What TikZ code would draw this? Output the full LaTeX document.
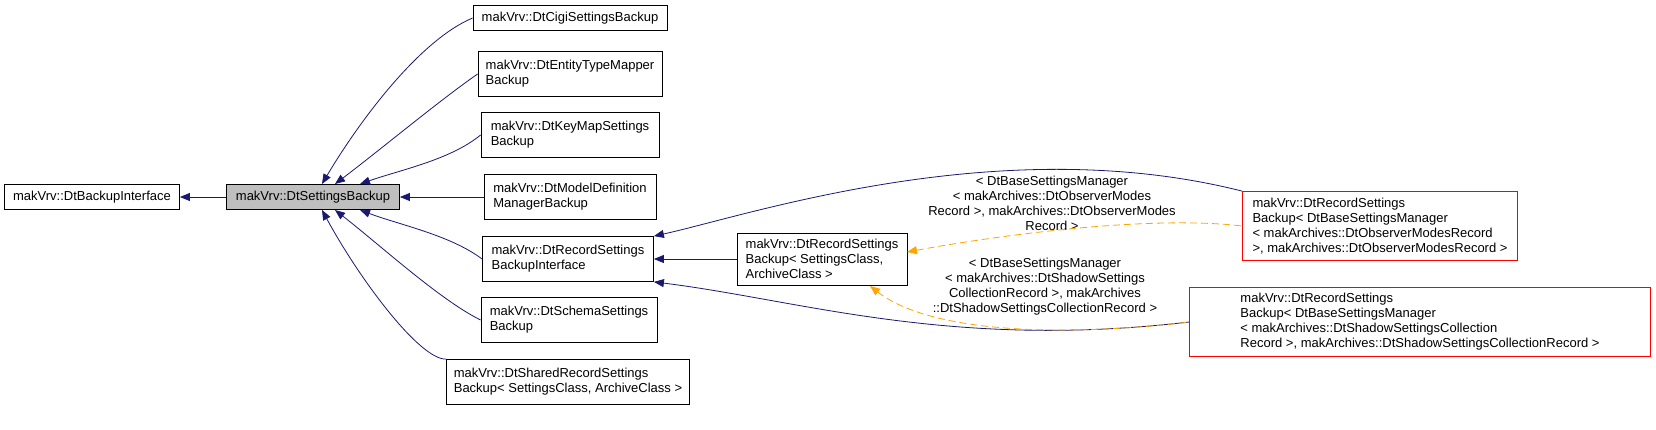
\documentclass[tikz,border=0pt]{standalone}
\usepackage{fontspec}
\setmainfont{Liberation Sans}
\usetikzlibrary{arrows.meta}
\begin{document}
\begin{tikzpicture}[x=1pt,y=-1pt,
  box/.style={draw=black,fill=white,align=left,font=\fontsize{13}{15}\selectfont,inner sep=2pt,line width=0.8pt},
  redbox/.style={box,draw=red},
  edge/.style={draw={rgb,255:red,25;green,25;blue,112},line width=0.8pt,{Triangle[length=10pt,width=8pt]}-},
  tedge/.style={draw={rgb,255:red,255;green,165;blue,0},dashed,dash pattern=on 7pt off 4pt,line width=0.8pt,{Triangle[length=10pt,width=8pt]}-},
  lbl/.style={align=center,font=\fontsize{13}{15}\selectfont,inner sep=0pt}]
\useasboundingbox (0,0) rectangle (1656,429);
\node[box,minimum width=175pt,minimum height=25pt] (bi) at (92,197) {makVrv::DtBackupInterface};
\node[box,fill={rgb,255:red,191;green,191;blue,191},minimum width=173pt,minimum height=25pt] (sb) at (313,197) {makVrv::DtSettingsBackup};
\node[box,minimum width=194pt,minimum height=25pt] (cigi) at (570,18) {makVrv::DtCigiSettingsBackup};
\node[box,minimum width=184pt,minimum height=45pt] (etm) at (570,74) {makVrv::DtEntityTypeMapper\\Backup};
\node[box,minimum width=178pt,minimum height=45pt] (km) at (570,135) {makVrv::DtKeyMapSettings\\Backup};
\node[box,minimum width=172pt,minimum height=45pt] (md) at (570,197) {makVrv::DtModelDefinition\\ManagerBackup};
\node[box,minimum width=171pt,minimum height=45pt] (rsbi) at (568,259) {makVrv::DtRecordSettings\\BackupInterface};
\node[box,minimum width=176pt,minimum height=45pt] (sch) at (569,320) {makVrv::DtSchemaSettings\\Backup};
\node[box,minimum width=243pt,minimum height=45pt] (shr) at (568,382) {makVrv::DtSharedRecordSettings\\Backup< SettingsClass, ArchiveClass >};
\node[box,minimum width=170pt,minimum height=52pt] (tpl) at (822,259) {makVrv::DtRecordSettings\\Backup< SettingsClass,\\ArchiveClass >};
\node[redbox,minimum width=275pt,minimum height=69pt] (r1) at (1380,226) {makVrv::DtRecordSettings\\Backup< DtBaseSettingsManager\\< makArchives::DtObserverModesRecord\\ >, makArchives::DtObserverModesRecord >};
\node[redbox,minimum width=461pt,minimum height=69pt] (r2) at (1420,322) {makVrv::DtRecordSettings\\Backup< DtBaseSettingsManager\\< makArchives::DtShadowSettingsCollection\\Record >, makArchives::DtShadowSettingsCollectionRecord >};
\node[lbl] (l1) at (1052,203) {< DtBaseSettingsManager\\< makArchives::DtObserverModes\\Record >, makArchives::DtObserverModes\\Record >};
\node[lbl] (l2) at (1045,287) {< DtBaseSettingsManager\\< makArchives::DtShadowSettings\\CollectionRecord >, makArchives\\::DtShadowSettingsCollectionRecord >};
\coordinate (sbn1) at (322,184);
\coordinate (sbn2) at (335,184);
\coordinate (sbn3) at (360,184);
\coordinate (sbs1) at (322,210);
\coordinate (sbs2) at (335,210);
\coordinate (sbs3) at (360,210);
\coordinate (tplr) at (907,252);
\coordinate (tplb) at (870,286);
\draw[edge] (bi.east) -- (sb.west);
\draw[edge] (sbn1) .. controls (360,120) and (420,40) .. (cigi.west);
\draw[edge] (sbn2) .. controls (380,150) and (440,100) .. (etm.west);
\draw[edge] (sbn3) .. controls (400,170) and (450,160) .. (km.west);
\draw[edge] (sb.east) -- (md.west);
\draw[edge] (sbs3) .. controls (400,225) and (450,235) .. (rsbi.west);
\draw[edge] (sbs2) .. controls (380,245) and (440,300) .. (sch.west);
\draw[edge] (sbs1) .. controls (360,280) and (420,360) .. (shr.north west);
\draw[edge] (rsbi.north east) .. controls (750,215) and (1000,130) .. (r1.north west);
\draw[edge] (rsbi.south east) .. controls (800,300) and (950,350) .. (r2.west);
\draw[edge] (rsbi.east) -- (tpl.west);
\draw[tedge] (tplr) .. controls (1000,235) and (1150,215) .. (r1.west);
\draw[tedge] (tplb) .. controls (940,340) and (1100,333) .. (r2.west);
\end{tikzpicture}
\end{document}
